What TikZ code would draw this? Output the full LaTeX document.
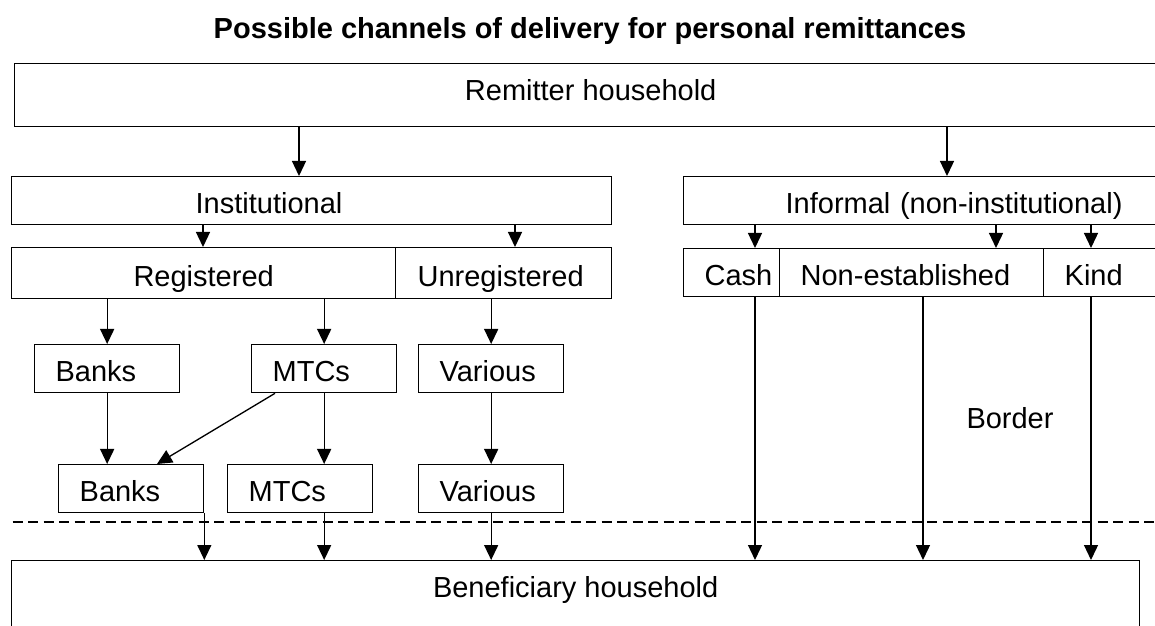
\documentclass[tikz,border=0pt]{standalone}
\usepackage{fontspec}
\setmainfont{Liberation Sans}
\usetikzlibrary{arrows.meta}
\tikzset{
  box/.style={draw, line width=0.75pt, inner ysep=0pt, minimum height=0.96cm,
    text height=0.52cm, text depth=0pt, font=\fontsize{16.5}{20}\selectfont},
  lbox/.style 2 args={box, align=left, inner xsep=#1, text width=#2},
  arr/.style={line width=0.75pt, -{Triangle[length=0.3cm,width=0.28cm]}},
  border/.style={line width=1pt, dash pattern=on 0.2cm off 0.11cm},
}
\begin{document}
\begin{tikzpicture}
        \useasboundingbox (0,0) rectangle (23.1,12.5);
        \clip (0,0) rectangle (23.1,12.5);
        \node[anchor=base, font=\fontsize{16.5}{20}\selectfont\bfseries] (title) at (11.8,11.72)
        {Possible channels of delivery for personal remittances};
        %origine
        \node[box, anchor=north west, minimum width=23.04cm, minimum height=1.26cm, text height=0.22cm]
        (rem) at (0.28,11.24) {Remitter household};
        %canali
        \node[lbox={3.68cm}{4.64cm}, anchor=north west] (inst) at (0.22,8.98) {Institutional};
        \node[lbox={2.04cm}{6.86cm}, anchor=north west] (infm) at (13.66,8.98) {Informal (non-institutional)};
        \node[box, anchor=north west, minimum width=7.68cm, minimum height=1.02cm] (reg) at (0.22,7.56) {Registered};
        \node[lbox={0.44cm}{3.44cm}, anchor=north west, minimum height=1.02cm] (unreg) at (7.9,7.56) {Unregistered};
        \node[lbox={0.42cm}{1.08cm}, anchor=north west] (cash) at (13.66,7.54) {Cash};
        \node[lbox={0.42cm}{4.44cm}, anchor=north west] (nonest) at (15.58,7.54) {Non-established};
        \node[lbox={0.42cm}{1.9cm}, anchor=north west] (kind) at (20.86,7.54) {Kind};
        %operatori
        \node[lbox={0.42cm}{2.06cm}, anchor=north west] (bank1) at (0.68,5.62) {Banks};
        \node[lbox={0.42cm}{2.06cm}, anchor=north west] (mtc1) at (5.02,5.62) {MTCs};
        \node[lbox={0.42cm}{2.06cm}, anchor=north west] (var1) at (8.36,5.62) {Various};
        \node[lbox={0.42cm}{2.06cm}, anchor=north west] (bank2) at (1.16,3.22) {Banks};
        \node[lbox={0.42cm}{2.06cm}, anchor=north west] (mtc2) at (4.54,3.22) {MTCs};
        \node[lbox={0.42cm}{2.06cm}, anchor=north west] (var2) at (8.36,3.22) {Various};
        %destinazione
        \node[box, anchor=north west, minimum width=22.56cm, inner ysep=0.22cm, text depth=2cm]
        (benef) at (0.22,1.3) {Beneficiary household};
        \node[anchor=base, font=\fontsize{16.5}{20}\selectfont] (bord) at (20.2,3.92) {Border};
        \draw[border] (0.25,2.06) -- (23.2,2.06);
        %frecce
        \foreach \s/\t/\d in {rem/inst/5.76, rem/infm/5.28, inst/reg/3.84, inst/unreg/2.4,
        infm/cash/1.44, infm/nonest/4.34, infm/kind/0.96} {
        \draw[arr] ([xshift=\d cm]\t.north west |- \s.south) -- ([xshift=\d cm]\t.north west);}
        \foreach \s/\t in {reg/bank1, reg/mtc1, unreg/var1} {
        \draw[arr] (\t.north |- \s.south) -- (\t.north);}
        \foreach \s/\t in {bank1/bank2, mtc1/mtc2, var1/var2} {
        \draw[arr] (\s.south) -- (\s.south |- \t.north);}
        \draw[arr] ([xshift=0.48cm]mtc1.south west) -- ([xshift=1.98cm]bank2.north west);
        \draw[arr] (bank2.south east) -- (bank2.south east |- benef.north);
        \draw[arr] (mtc1.south |- mtc2.south) -- (mtc1.south |- benef.north);
        \draw[arr] (var2.south) -- (var2.south |- benef.north);
        \foreach \s/\d in {cash/1.44, nonest/2.88, kind/0.96} {
        \draw[arr] ([xshift=\d cm]\s.south west) -- ([xshift=\d cm]\s.south west |- benef.north);}
\end{tikzpicture}
\end{document}
